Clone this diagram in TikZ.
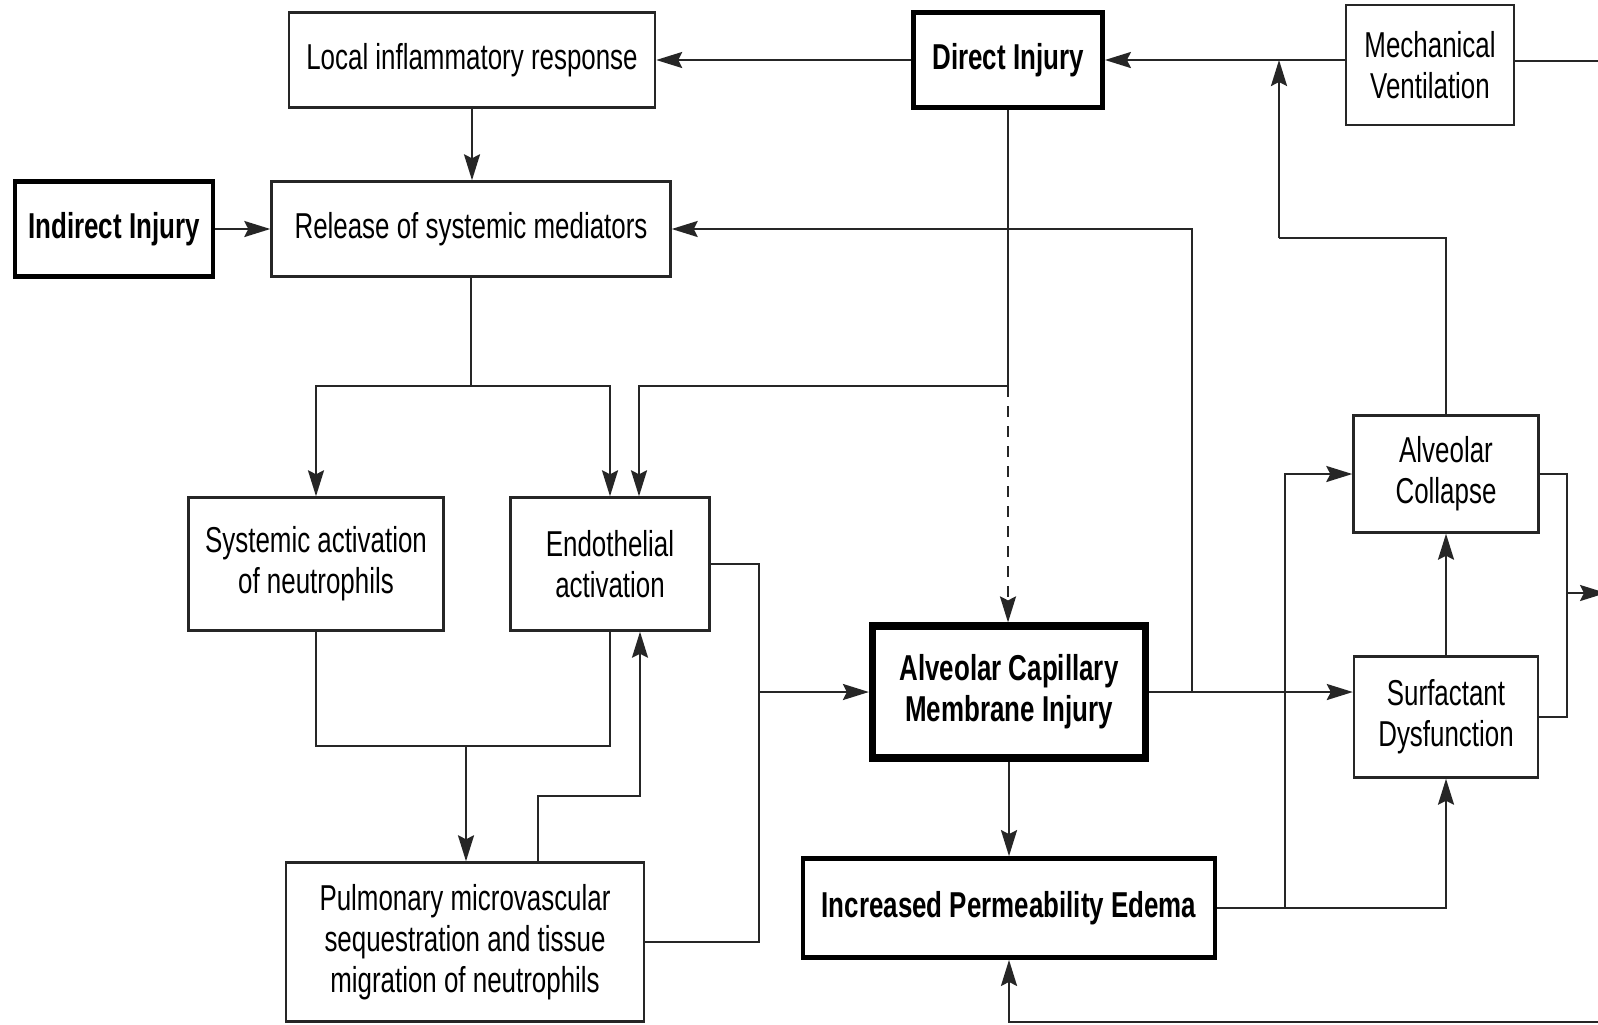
\documentclass[tikz,border=0pt]{standalone}
\usepackage{fontspec}
\setmainfont[FakeStretch=0.72]{Liberation Sans}
\usetikzlibrary{arrows.meta}
\begin{document}
\begin{tikzpicture}[x=0.5pt,y=-0.5pt,
  ln/.style={line width=1.2pt, draw=black!85},
  arr/.style={ln, -{Stealth[length=13pt,width=8pt,inset=2pt]}},
  box/.style={draw=black!85, line width=1.2pt, align=center, inner sep=0pt,
    font=\fontsize{18pt}{20.5pt}\selectfont, fill=white},
  bbox/.style={box, line width=2.4pt, draw=black, font=\fontsize{18pt}{20.5pt}\selectfont\bfseries},
  cbox/.style={bbox, line width=3.6pt}
]
\useasboundingbox[fill=white] (0,0) rectangle (1598,1024);

% nodes
\node[box, minimum width=183pt, minimum height=47.5pt] (loc) at (472,60) {Local inflammatory response};
\node[bbox, minimum width=94.5pt, minimum height=47.5pt] (dir) at (1008,60) {Direct Injury};
\node[box, minimum width=84pt, minimum height=60pt] (mv) at (1430,65) {Mechanical\\Ventilation};
\node[bbox, minimum width=99pt, minimum height=47.5pt] (ind) at (114,229) {Indirect Injury};
\node[box, minimum width=199.5pt, minimum height=47.5pt] (rel) at (471,229) {Release of systemic mediators};
\node[box, minimum width=127.5pt, minimum height=66.5pt] (sys) at (316,564) {Systemic activation\\of neutrophils};
\node[box, minimum width=99.5pt, minimum height=66.5pt] (endo) at (610,564) {Endothelial\\activation};
\node[cbox, minimum width=136.5pt, minimum height=66pt] (acm) at (1009,692) {Alveolar Capillary\\Membrane Injury};
\node[box, minimum width=92.5pt, minimum height=58.5pt] (ac) at (1446,474) {Alveolar\\Collapse};
\node[box, minimum width=92pt, minimum height=60.5pt] (sd) at (1446,717) {Surfactant\\Dysfunction};
\node[box, minimum width=179pt, minimum height=79.5pt] (pm) at (465,942) {Pulmonary microvascular\\sequestration and tissue\\migration of neutrophils};
\node[bbox, minimum width=206pt, minimum height=49.5pt] (ipe) at (1009,908) {Increased Permeability Edema};

% junction coordinates
\coordinate (rE) at (1598,61);
\coordinate (j1) at (471,386);
\coordinate (j2) at (1008,386);
\coordinate (j3) at (1192,692);
\coordinate (j4) at (466,746);
\coordinate (j5) at (640,796);
\coordinate (j6) at (759,692);
\coordinate (j7) at (1285,908);
\coordinate (j8) at (1279,238);
\coordinate (j9) at (1567,593);
\coordinate (rA) at (1606,593);
\coordinate (rB) at (1598,1022);

% connectors
\draw[arr] (dir.west) -- (loc.east);
\draw[arr] (mv.west |- dir.east) -- (dir.east);
\draw[ln] (mv.east |- rE) -- (rE);
\draw[arr] (loc.south) -- (loc.south |- rel.north);
\draw[arr] (ind.east) -- (rel.west);
\draw[ln] (rel.south) -- (j1);
\draw[arr] (j1) -| (sys.north);
\draw[arr] (j1) -| (endo.north);
\draw[ln] (dir.south) -- (j2);
\draw[arr] (j2) -| ([xshift=14.5pt]endo.north);
\draw[arr, dash pattern=on 5.5pt off 4.5pt] (j2) -- (j2 |- acm.north);
\draw[arr] (j3) |- (rel.east);
\draw[arr] (acm.east) -- (sd.west |- acm.east);
\draw[ln] (sys.south) -- (sys.south |- j4) -- (endo.south |- j4) -- (endo.south);
\draw[arr] (j4) -- (j4 |- pm.north);
\draw[arr] ([xshift=36.5pt]pm.north) |- (j5) -- (j5 |- endo.south);
\draw[ln] (endo.east) -| (j6) |- (pm.east);
\draw[arr] (j6) -- (acm.west);
\draw[arr] (acm.south) -- (ipe.north);
\draw[arr] (ipe.east) -| (sd.south);
\draw[arr] (j7) |- (ac.west);
\draw[arr] (sd.north) -- (ac.south);
\draw[ln] (ac.north) |- (j8);
\draw[arr] (j8) -- (j8 |- dir.east);
\draw[ln] (ac.east) -| (j9) |- (sd.east);
\draw[arr] (j9) -- (rA);
\draw[arr] (rB) -| (ipe.south);
\end{tikzpicture}
\end{document}
